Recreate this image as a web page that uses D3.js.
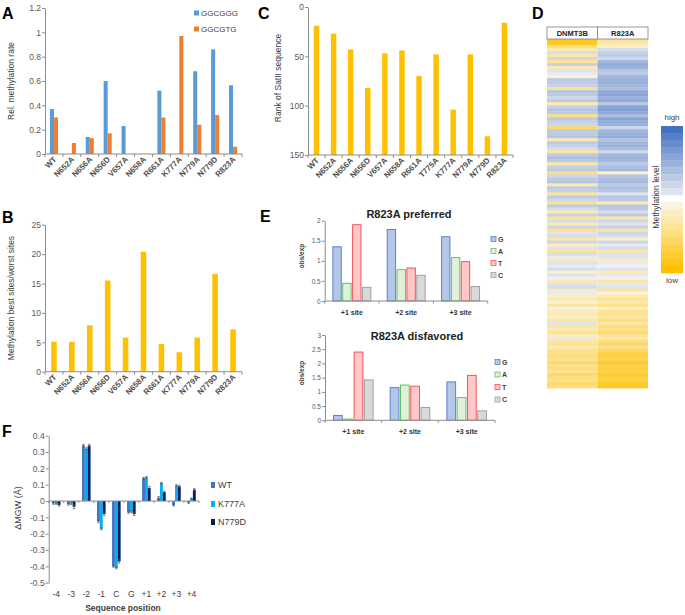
<!DOCTYPE html>
<html>
<head>
<meta charset="utf-8">
<script src="https://cdn.jsdelivr.net/npm/d3@7"></script>
<style>
  body { margin: 0; background: #fff; }
  svg { font-family: "Liberation Sans", Arial, sans-serif; }
</style>
</head>
<body>
<svg id="fig" width="685" height="615"></svg>
<script>
// ---- data ----
const mutantsA = ['WT','N652A','N656A','N656D','V657A','N658A','R661A','K777A','N779A','N779D','R823A'];
const rateGGCGGG = [0.37, 0, 0.14, 0.60, 0.23, 0, 0.52, 0, 0.68, 0.86, 0.565];
const rateGGCGTG = [0.30, 0.09, 0.13, 0.17, 0, 0, 0.30, 0.97, 0.24, 0.32, 0.06];
const bestWorstRatio = [5.1, 5.1, 7.9, 15.5, 5.8, 20.4, 4.7, 3.3, 5.8, 16.6, 7.2];

const mutantsC = ['WT','N652A','N656A','N656D','V657A','N658A','R661A','T775A','K777A','N779A','N779D','R823A'];
const satIIRank = [19, 27, 43, 82, 47, 44, 70, 48, 104, 48, 131, 16];

const sites = ['+1 site', '+2 site', '+3 site'];
const bases = ['G', 'A', 'T', 'C'];
const prefG = [1.35, 1.78, 1.60];
const prefA = [0.44, 0.78, 1.08];
const prefT = [1.90, 0.82, 0.98];
const prefC = [0.34, 0.64, 0.36];
const disG = [0.17, 1.15, 1.35];
const disA = [0.04, 1.24, 0.80];
const disT = [2.40, 1.20, 1.58];
const disC = [1.42, 0.45, 0.33];

const positions = ['-4','-3','-2','-1','C','G','+1','+2','+3','+4'];
const mgwWT    = [-0.015, -0.020, 0.340, -0.125, -0.400, -0.070, 0.140, 0.020, -0.025, -0.010];
const mgwK777A = [-0.015, -0.015, 0.320, -0.170, -0.410, -0.065, 0.145, 0.110, 0.095, 0.015];
const mgwN779D = [-0.025, -0.035, 0.340, -0.080, -0.370, -0.080, 0.080, 0.055, 0.090, 0.070];
const errWT    = [0.005, 0.005, 0.006, 0.008, 0.005, 0.005, 0.005, 0.008, 0.006, 0.005];
const errK777A = [0.005, 0.006, 0.006, 0.006, 0.005, 0.006, 0.005, 0.005, 0.005, 0.004];
const errN779D = [0.006, 0.012, 0.008, 0.010, 0.010, 0.008, 0.010, 0.006, 0.006, 0.006];

// heatmap (-1 = low / yellow, +1 = high / blue), top to bottom
const heatDNMT3B = [
  -0.9, -0.85, -0.5,
  -0.3, 0.15, -0.35, 0.2,
  -0.4, 0.25, -0.3, 0.1, 0.05, -0.15, 0.3,
  0.3, 0.25, -0.45, 0.35, 0.3, 0.2, 0.3, -0.3, 0.25, 0.35, 0.3, -0.5, 0.3, 0.25, 0.2, -0.6, 0.3,
  0.3, 0.35, -0.3, 0.3, 0.25, 0.15, -0.4, 0.3, 0.4, 0.3, -0.35, 0.25, 0.3, -0.5, 0.2,
  0.3, 0.35, -0.3, 0.3, 0.25, -0.4, 0.3, 0.2, -0.45, 0.3, 0.15, -0.3, 0.25,
  -0.4, 0.15, -0.3, 0.2, -0.45, 0.1, 0.15, -0.35, 0.2, -0.25, 0.1, -0.4, 0.15, 0.05, -0.3, 0.1,
  0.05, 0.15, -0.2, 0.1, 0.0, -0.3, 0.1, 0.15, -0.25, 0.05,
  -0.2, -0.3, -0.15, -0.35, 0.0, -0.25, -0.3, -0.2, -0.35, 0.1,
  -0.35, -0.3, -0.4, -0.25, 0.05, -0.35, -0.4, -0.3, -0.45,
  -0.45, -0.5, -0.4, -0.55, -0.45, -0.5, -0.4, -0.55, -0.5, -0.45, -0.55, -0.5
];
const heatR823A = [
  -0.4, -0.3, -0.2,
  0.15, 0.25, 0.3, 0.2,
  0.45, 0.55, 0.5, 0.35, 0.3, 0.45, 0.5,
  0.5, 0.45, 0.4, 0.55, 0.6, 0.5, 0.55, 0.3, 0.6, 0.65, 0.55, 0.4, 0.6, 0.55, 0.5, 0.2, 0.45,
  0.5, 0.55, 0.35, 0.45, 0.5, 0.4, 0.2, 0.45, 0.5, 0.45, 0.3, 0.4, 0.45, -0.2, 0.35,
  0.4, 0.45, 0.3, 0.4, 0.35, 0.1, 0.35, 0.3, -0.3, 0.35, 0.3, 0.15, 0.3,
  -0.3, 0.2, 0.1, 0.25, -0.35, 0.2, 0.15, -0.2, 0.2, 0.05, 0.15, -0.35, 0.1, 0.1, -0.25, 0.05,
  0.0, 0.1, -0.3, 0.05, 0.0, -0.35, 0.05, 0.1, -0.4, -0.1,
  -0.3, -0.4, -0.3, -0.45, -0.2, -0.4, -0.45, -0.35, -0.5, -0.3,
  -0.5, -0.45, -0.55, -0.4, -0.3, -0.5, -0.55, -0.45, -0.6,
  -0.7, -0.75, -0.65, -0.8, -0.7, -0.75, -0.7, -0.8, -0.75, -0.7, -0.8, -0.85
];

// ---- helpers ----
const FONT = '"Liberation Sans", Arial, sans-serif';
const axisCol = '#8c8c8c';
const tickCol = '#595959';
const gold = '#FFC000';
const svg = d3.select('#fig');
const fmt = d => String(+d.toFixed(2));

function leftAxis(x, y, vals, fs) {
  const g = svg.append('g')
    .attr('transform', `translate(${x},0)`)
    .call(d3.axisLeft(y).tickValues(vals).tickSize(3).tickSizeOuter(0).tickFormat(fmt));
  g.attr('font-family', FONT).attr('font-size', fs);
  g.select('.domain').attr('stroke', axisCol);
  g.selectAll('.tick line').attr('stroke', axisCol);
  g.selectAll('.tick text').attr('fill', tickCol).attr('x', -4);
  return g;
}

function catAxis(x, y0, cats, tickLen) {
  const [a, b] = x.range();
  svg.append('line').attr('x1', a).attr('x2', b).attr('y1', y0).attr('y2', y0).attr('stroke', axisCol);
  cats.concat([null]).forEach(c => {
    const xx = c === null ? b : x(c);
    svg.append('line').attr('x1', xx).attr('x2', xx).attr('y1', y0).attr('y2', y0 + tickLen).attr('stroke', axisCol);
  });
}

function rotLabels(x, y0, cats, fs) {
  svg.append('g').selectAll('text').data(cats).join('text')
    .attr('transform', d => `translate(${x(d) + x.bandwidth() / 2 + 3},${y0 + 6}) rotate(-45)`)
    .attr('text-anchor', 'end')
    .attr('font-size', fs)
    .attr('font-weight', 'bold')
    .attr('fill', '#505050')
    .text(d => d);
}

function yTitle(x, y, txt, fs, bold) {
  svg.append('text')
    .attr('transform', `translate(${x},${y}) rotate(-90)`)
    .attr('text-anchor', 'middle')
    .attr('font-size', fs)
    .attr('font-weight', bold ? 'bold' : 'normal')
    .attr('fill', '#404040')
    .text(txt);
}

function panelLabel(x, y, t) {
  svg.append('text').attr('x', x).attr('y', y).attr('font-size', 16).attr('font-weight', 'bold')
    .attr('font-family', 'Liberation Sans, Arial, sans-serif').attr('fill', '#000').text(t);
}

// ---- panel A ----
panelLabel(2, 19, 'A');
const xA = d3.scaleBand().domain(mutantsA).range([45, 242]);
const yA = d3.scaleLinear().domain([0, 1.2]).range([154, 8]);
const bwA = xA.bandwidth() * 0.225;
[[rateGGCGGG, '#5B9BD5', 0], [rateGGCGTG, '#ED7D31', 1]].forEach(([vals, col, k]) => {
  svg.append('g').selectAll('rect').data(vals).join('rect')
    .attr('x', (d, i) => xA(mutantsA[i]) + xA.bandwidth() / 2 - bwA + k * bwA)
    .attr('y', d => yA(d))
    .attr('width', bwA)
    .attr('height', d => yA(0) - yA(d))
    .attr('fill', col);
});
leftAxis(45, yA, [0, 0.2, 0.4, 0.6, 0.8, 1, 1.2], 8.5);
catAxis(xA, yA(0), mutantsA, 3);
rotLabels(xA, yA(0), mutantsA, 8);
yTitle(14, 81, 'Rel. methylation rate', 8.5);
[['GGCGGG', '#5B9BD5', 13], ['GGCGTG', '#ED7D31', 29]].forEach(([t, c, y]) => {
  svg.append('rect').attr('x', 194).attr('y', y - 2.5).attr('width', 5).attr('height', 5).attr('fill', c);
  svg.append('text').attr('x', 201).attr('y', y + 3).attr('font-size', 8).attr('fill', '#404040').text(t);
});

// ---- panel B ----
panelLabel(2, 223, 'B');
const xB = d3.scaleBand().domain(mutantsA).range([45, 242]);
const yB = d3.scaleLinear().domain([0, 25]).range([371.7, 224.7]);
const bwB = xB.bandwidth() * 0.31;
svg.append('g').selectAll('rect').data(bestWorstRatio).join('rect')
  .attr('x', (d, i) => xB(mutantsA[i]) + xB.bandwidth() / 2 - bwB / 2)
  .attr('y', d => yB(d))
  .attr('width', bwB)
  .attr('height', d => yB(0) - yB(d))
  .attr('fill', gold);
leftAxis(45, yB, [0, 5, 10, 15, 20, 25], 8.5);
catAxis(xB, yB(0), mutantsA, 3);
rotLabels(xB, yB(0), mutantsA, 8);
yTitle(14, 298, 'Methylation best sites/worst sites', 8.5);

// ---- panel C ----
panelLabel(258, 19, 'C');
const xC = d3.scaleBand().domain(mutantsC).range([308, 513]);
const yC = d3.scaleLinear().domain([0, 150]).range([7, 155]);
const bwC = xC.bandwidth() * 0.32;
svg.append('g').selectAll('rect').data(satIIRank).join('rect')
  .attr('x', (d, i) => xC(mutantsC[i]) + xC.bandwidth() / 2 - bwC / 2)
  .attr('y', d => yC(d))
  .attr('width', bwC)
  .attr('height', d => yC(150) - yC(d))
  .attr('fill', gold);
leftAxis(308, yC, [0, 50, 100, 150], 8.5);
catAxis(xC, yC(150), mutantsC, 3);
rotLabels(xC, yC(150), mutantsC, 8);
yTitle(281, 78, 'Rank of SatII sequence', 8.5);

// ---- panel D ----
panelLabel(532, 19, 'D');
const heatCols = ['DNMT3B', 'R823A'];
const xH = d3.scaleBand().domain(heatCols).range([547, 648]);
const yH = d3.scaleBand().domain(d3.range(heatDNMT3B.length)).range([39, 388]);
const heatColor = v => v < 0
  ? d3.interpolateRgb('#fbfaf7', '#FFC000')(-v)
  : d3.interpolateRgb('#f0f0f2', '#4472C4')(v);
[heatDNMT3B, heatR823A].forEach((vals, k) => {
  svg.append('g').selectAll('rect').data(vals).join('rect')
    .attr('x', xH(heatCols[k]))
    .attr('y', (d, i) => yH(i))
    .attr('width', xH.bandwidth())
    .attr('height', yH.bandwidth() + 0.4)
    .attr('fill', d => heatColor(d));
});
heatCols.forEach(c => {
  svg.append('rect').attr('x', xH(c)).attr('y', 27).attr('width', xH.bandwidth()).attr('height', 12)
    .attr('fill', '#fff').attr('stroke', '#7f7f7f').attr('stroke-width', 0.8);
  svg.append('text').attr('x', xH(c) + xH.bandwidth() / 2).attr('y', 36).attr('text-anchor', 'middle')
    .attr('font-size', 7.5).attr('font-weight', 'bold').attr('fill', '#222').text(c);
});
// legend
const legBlue = d3.scaleBand().domain(d3.range(10)).range([126, 195]);
const legGold = d3.scaleBand().domain(d3.range(10)).range([202, 273]);
legBlue.domain().forEach(i => {
  svg.append('rect').attr('x', 661).attr('y', legBlue(i)).attr('width', 22).attr('height', legBlue.bandwidth() + 0.3)
    .attr('fill', heatColor(1 - i / 10));
  svg.append('rect').attr('x', 661).attr('y', legGold(i)).attr('width', 22).attr('height', legGold.bandwidth() + 0.3)
    .attr('fill', heatColor(-(i + 1) / 10));
});
svg.append('text').attr('x', 672).attr('y', 120).attr('text-anchor', 'middle').attr('font-size', 8).attr('fill', '#404040').text('high');
svg.append('text').attr('x', 672).attr('y', 283).attr('text-anchor', 'middle').attr('font-size', 8).attr('fill', '#404040').text('low');
yTitle(659, 197, 'Methylation level', 8.5);

// ---- panel E ----
panelLabel(260, 222, 'E');
const eCols = {
  G: ['#B4C7E7', '#5B82D0'],
  A: ['#E2F0D9', '#5CC46A'],
  T: ['#FFC7C7', '#F25555'],
  C: ['#D9D9D9', '#A0A0A0']
};
function siteChart(cfg) {
  const x = d3.scaleBand().domain(sites).range(cfg.xr);
  const y = d3.scaleLinear().domain([0, cfg.max]).range(cfg.yr);
  const xi = d3.scaleBand().domain(bases).range([0, x.bandwidth()]).paddingInner(0.15).paddingOuter(0.83);
  bases.forEach((b, k) => {
    svg.append('g').selectAll('rect').data(cfg.series[k]).join('rect')
      .attr('x', (d, i) => x(sites[i]) + xi(b))
      .attr('y', d => y(d))
      .attr('width', xi.bandwidth())
      .attr('height', d => y(0) - y(d))
      .attr('fill', eCols[b][0])
      .attr('stroke', eCols[b][1])
      .attr('stroke-width', 1);
  });
  leftAxis(cfg.xr[0], y, cfg.ticks, 6.5);
  catAxis(x, y(0), sites, 2.5);
  svg.append('g').selectAll('text').data(sites).join('text')
    .attr('x', d => x(d) + x.bandwidth() / 2)
    .attr('y', y(0) + 14)
    .attr('text-anchor', 'middle')
    .attr('font-size', 7)
    .attr('font-weight', 'bold')
    .attr('fill', '#333')
    .text(d => d);
  svg.append('text').attr('x', cfg.titleX).attr('y', cfg.titleY).attr('text-anchor', 'middle')
    .attr('font-size', 11).attr('font-weight', 'bold').attr('fill', '#222').text(cfg.title);
  yTitle(cfg.xr[0] - 21, cfg.yTitleY, 'obs/exp', 6.5, true);
  bases.forEach((b, k) => {
    const ly = cfg.legY + k * cfg.legStep;
    svg.append('rect').attr('x', cfg.legX).attr('y', ly - 2.5).attr('width', 5).attr('height', 5)
      .attr('fill', eCols[b][0]).attr('stroke', eCols[b][1]).attr('stroke-width', 0.8);
    svg.append('text').attr('x', cfg.legX + 7).attr('y', ly + 2.6).attr('font-size', 7)
      .attr('font-weight', 'bold').attr('fill', '#404040').text(b);
  });
}
siteChart({
  xr: [324.7, 487.7], yr: [301, 220.7], max: 2, ticks: [0, 0.5, 1, 1.5, 2],
  series: [prefG, prefA, prefT, prefC],
  title: 'R823A preferred', titleX: 409, titleY: 218, yTitleY: 256,
  legX: 491, legY: 239, legStep: 12
});
siteChart({
  xr: [325, 495], yr: [420.3, 335], max: 3, ticks: [0, 0.5, 1, 1.5, 2, 2.5, 3],
  series: [disG, disA, disT, disC],
  title: 'R823A disfavored', titleX: 417, titleY: 340, yTitleY: 373,
  legX: 495, legY: 362, legStep: 12.5
});

// ---- panel F ----
panelLabel(2, 437, 'F');
const xF = d3.scaleBand().domain(positions).range([48.7, 199]);
const yF = d3.scaleLinear().domain([-0.5, 0.4]).range([582.7, 435.7]);
const bwF = xF.bandwidth() * 0.19;
const fSeries = [
  ['WT', mgwWT, errWT, '#4472C4'],
  ['K777A', mgwK777A, errK777A, '#00B0F0'],
  ['N779D', mgwN779D, errN779D, '#002060']
];
fSeries.forEach(([name, vals, errs, col], k) => {
  const g = svg.append('g');
  const bx = i => xF(positions[i]) + xF.bandwidth() / 2 - 1.5 * bwF + k * bwF;
  g.selectAll('rect').data(vals).join('rect')
    .attr('x', (d, i) => bx(i))
    .attr('y', d => yF(Math.max(0, d)))
    .attr('width', bwF)
    .attr('height', d => Math.abs(yF(d) - yF(0)))
    .attr('fill', col);
  vals.forEach((v, i) => {
    const cx = bx(i) + bwF / 2;
    const y1 = yF(v - errs[i]), y2 = yF(v + errs[i]);
    g.append('line').attr('x1', cx).attr('x2', cx).attr('y1', y1).attr('y2', y2).attr('stroke', '#555').attr('stroke-width', 0.7);
    [y1, y2].forEach(yy => g.append('line').attr('x1', cx - 1.2).attr('x2', cx + 1.2).attr('y1', yy).attr('y2', yy)
      .attr('stroke', '#555').attr('stroke-width', 0.7));
  });
});
leftAxis(48.7, yF, d3.range(-5, 5).map(d => d / 10), 8.5);
catAxis(xF, yF(0), positions, 2);
svg.append('g').selectAll('text').data(positions).join('text')
  .attr('x', d => xF(d) + xF.bandwidth() / 2)
  .attr('y', 597)
  .attr('text-anchor', 'middle')
  .attr('font-size', 8.5)
  .attr('fill', '#404040')
  .text(d => d);
svg.append('text').attr('x', 123).attr('y', 611).attr('text-anchor', 'middle')
  .attr('font-size', 8.5).attr('font-weight', 'bold').attr('fill', '#404040').text('Sequence position');
yTitle(21, 508, 'ΔMGW (Å)', 9);
fSeries.forEach(([name, , , col], k) => {
  const ly = [485, 504, 522][k];
  svg.append('rect').attr('x', 211).attr('y', ly - 3).attr('width', 4).attr('height', 6).attr('fill', col);
  svg.append('text').attr('x', 218).attr('y', ly + 3.2).attr('font-size', 9).attr('fill', '#404040').text(name);
});
</script>
</body>
</html>
